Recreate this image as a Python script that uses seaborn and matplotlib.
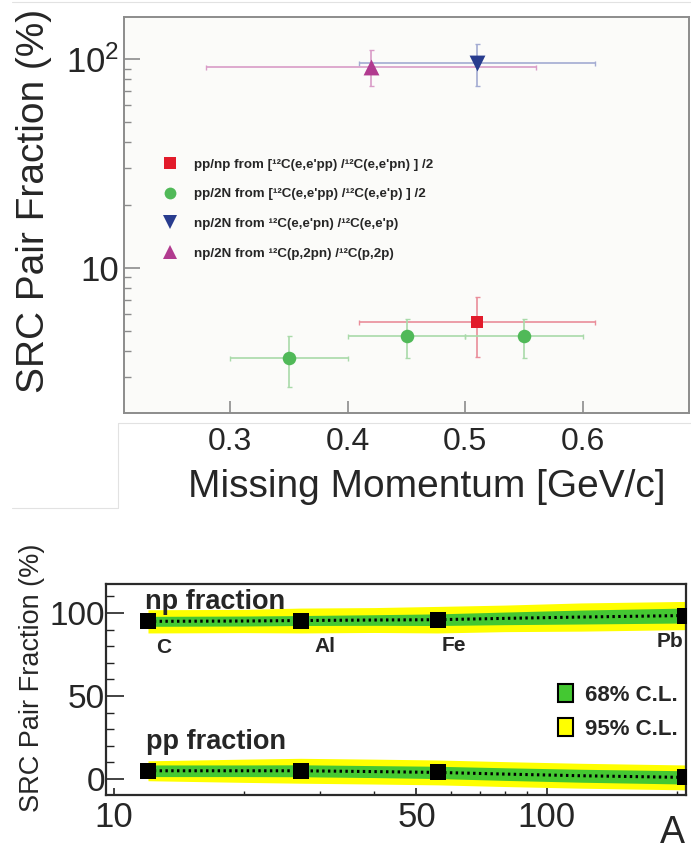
import matplotlib
matplotlib.use("Agg")
import numpy as np
import pandas as pd
import matplotlib.pyplot as plt
import seaborn as sns
from matplotlib.lines import Line2D
from matplotlib.patches import Patch
from matplotlib.ticker import FixedLocator, NullFormatter
from matplotlib import font_manager

# ---------------- upper panel: 12C pair fractions vs missing momentum ----------------
ppnp_x = [0.51]
ppnp_xerr = [0.10]
ppnp_y = [5.5]
ppnp_yerr = [1.75]

pp2n_x = [0.35, 0.45, 0.55]
pp2n_xerr = [0.05, 0.05, 0.05]
pp2n_y = [3.7, 4.7, 4.7]
pp2n_yerr = [1.0, 1.0, 1.0]

np2n_e_x = [0.51]
np2n_e_xerr = [0.10]
np2n_e_y = [96.0]
np2n_e_yerr = [22.0]

np2n_p_x = [0.42]
np2n_p_xerr = [0.14]
np2n_p_y = [92.0]
np2n_p_yerr = [18.0]

top_labels = [
    "pp/np from [\u00b9\u00b2C(e,e'pp) /\u00b9\u00b2C(e,e'pn) ] /2",
    "pp/2N from [\u00b9\u00b2C(e,e'pp) /\u00b9\u00b2C(e,e'p) ] /2",
    "np/2N from \u00b9\u00b2C(e,e'pn) /\u00b9\u00b2C(e,e'p)",
    "np/2N from \u00b9\u00b2C(p,2pn) /\u00b9\u00b2C(p,2p)",
]
top_xticks = [0.3, 0.4, 0.5, 0.6]

# ---------------- lower panel: fractions vs mass number ----------------
nuclei = ["C", "Al", "Fe", "Pb"]
mass_A = [12, 27, 56, 208]
np_frac = [95.0, 95.5, 96.0, 98.5]
pp_frac = [5.0, 5.0, 4.0, 1.0]

band_A = [12, 20, 27, 40, 56, 80, 120, 208]
np_mid = [95.0, 95.2, 95.5, 95.8, 96.0, 96.8, 97.6, 98.5]
np_w68 = [3.0, 3.0, 3.0, 3.2, 3.5, 3.8, 4.2, 4.5]
np_w95 = [7.0, 7.0, 7.5, 7.5, 8.0, 8.0, 8.5, 8.5]
pp_mid = [5.0, 5.0, 5.0, 4.5, 4.0, 3.0, 2.0, 1.0]
pp_w68 = [3.5, 3.5, 3.6, 3.6, 3.7, 3.8, 3.9, 4.0]
pp_w95 = [6.0, 7.0, 7.5, 7.5, 7.5, 7.5, 7.5, 7.5]

sns.set_theme(style="ticks")
installed = {f.name for f in font_manager.fontManager.ttflist}
narrow = "Liberation Sans Narrow" if "Liberation Sans Narrow" in installed else "Liberation Sans"
plt.rcParams["font.family"] = ["Liberation Sans", "DejaVu Sans"]
plt.rcParams["mathtext.fontset"] = "custom"
plt.rcParams["mathtext.rm"] = "Liberation Sans"

W, H = 691, 849
fig = plt.figure(figsize=(W / 100, H / 100), dpi=100)
fig.patch.set_facecolor("white")


def px(v):
    return v * 72 / 100  # pixels -> points


# faint outline of the composed panels
for (x0, y0, x1, y1) in [(12, 2, 691, 2), (118, 423, 691, 423), (118, 423, 118, 508), (12, 508, 118, 508)]:
    fig.add_artist(Line2D([x0 / W, x1 / W], [1 - y0 / H, 1 - y1 / H], transform=fig.transFigure,
                          color="#e2e2e2", lw=0.8))

# ======================= upper panel =======================
ax1 = fig.add_axes([124 / W, 1 - 413 / H, 565 / W, 396 / H])
ax1.set_facecolor("#fbfbf9")
ax1.set_yscale("log")
ax1.set_xlim(0.21, 0.69)
ax1.set_ylim(2.02, 159)

series = [
    (ppnp_x, ppnp_y, ppnp_xerr, ppnp_yerr, "#e21b2b", "#ea8d9a", "s", 80),
    (pp2n_x, pp2n_y, pp2n_xerr, pp2n_yerr, "#50b958", "#a9daa9", "o", 95),
    (np2n_e_x, np2n_e_y, np2n_e_xerr, np2n_e_yerr, "#283c8e", "#a3abd2", "v", 130),
    (np2n_p_x, np2n_p_y, np2n_p_xerr, np2n_p_yerr, "#b13b8f", "#d99bc7", "^", 130),
]
handles = []
for (x, y, xe, ye, col, ecol, mk, s), lab in zip(series, top_labels):
    ax1.errorbar(x, y, xerr=xe, yerr=ye, fmt="none", ecolor=ecol, elinewidth=1.2,
                 capsize=1.8, capthick=1.0, zorder=2)
    sns.scatterplot(x=x, y=y, marker=mk, color=col, s=s, linewidth=0, ax=ax1, zorder=3)
    handles.append(Line2D([], [], marker=mk, color=col, ls="none",
                          markersize=8.5 if mk in "so" else 10, markeredgewidth=0, label=lab))

ax1.legend(handles=handles, loc="upper left", bbox_to_anchor=(157 / W, 1 - 153 / H),
           bbox_transform=fig.transFigure, frameon=False, handlelength=1.2, handletextpad=1.15,
           labelspacing=1.3, borderaxespad=0, prop={"family": narrow, "weight": "bold", "size": 9.6})

ax1.set_xticks(top_xticks)
ax1.set_xticklabels([f"{v:.1f}" for v in top_xticks])
ax1.yaxis.set_major_locator(FixedLocator([10, 100]))
ax1.set_yticklabels(["10", r"$\mathregular{10^{2}}$"])
ax1.yaxis.set_minor_locator(FixedLocator([3, 4, 5, 6, 7, 8, 9, 20, 30, 40, 50, 60, 70, 80, 90]))
ax1.yaxis.set_minor_formatter(NullFormatter())
ax1.xaxis.set_minor_locator(FixedLocator([]))
ax1.tick_params(axis="both", which="both", direction="in", color="#8c8c8c", top=False, right=False)
ax1.tick_params(axis="x", which="major", length=px(12), width=1.2, labelsize=23, pad=px(14))
ax1.tick_params(axis="y", which="major", length=px(16), width=1.2, labelsize=25, pad=px(5))
ax1.tick_params(axis="y", which="minor", length=px(7), width=1.0)
for sp in ax1.spines.values():
    sp.set_color("#8c8c8c")
    sp.set_linewidth(1.4)

ax1.set_xlabel("Missing Momentum [GeV/c]", fontsize=28)
ax1.xaxis.set_label_coords(0.535, -0.187)
ax1.xaxis.label.set_va("center")
ax1.set_ylabel("SRC Pair Fraction (%)", fontsize=28)
ax1.yaxis.set_label_coords(-0.159, 0.535)
ax1.yaxis.label.set_va("center")

# ======================= lower panel =======================
ax2 = fig.add_axes([106 / W, 1 - 795 / H, 580 / W, 211 / H])
ax2.set_xscale("log")
ax2.set_xlim(9.6, 209.5)
ax2.set_ylim(-9.6, 117.5)

yellow, green = "#ffff00", "#44c832"
bands = pd.DataFrame({"A": band_A, "np": np_mid, "np68": np_w68, "np95": np_w95,
                      "pp": pp_mid, "pp68": pp_w68, "pp95": pp_w95})
for key in ["np", "pp"]:
    mid = bands[key]
    ax2.fill_between(bands["A"], mid - bands[key + "95"], mid + bands[key + "95"], color=yellow, lw=0, zorder=1)
    ax2.fill_between(bands["A"], mid - bands[key + "68"], mid + bands[key + "68"], color=green, lw=0, zorder=2)
    sns.lineplot(data=bands, x="A", y=key, color="black", lw=2.2, linestyle=(0, (0.8, 1.1)), ax=ax2, zorder=3)

pts = pd.DataFrame({"A": mass_A * 2, "frac": np_frac + pp_frac})
sns.scatterplot(data=pts, x="A", y="frac", marker="s", color="black", s=140, linewidth=0, ax=ax2, zorder=4)

label_dx = [16, 24, 16, -1]
for name, a, v, dx in zip(nuclei, mass_A, np_frac, label_dx):
    ax2.annotate(name, xy=(a, v), xytext=(px(dx), px(-26)), textcoords="offset points",
                 ha="right" if dx < 0 else "center", va="center", fontsize=15, fontweight="bold",
                 family=narrow, annotation_clip=False)

ax2.text(11.8, 106.5, "np fraction", fontsize=19.5, fontweight="bold", family=narrow, ha="left", va="center")
ax2.text(11.9, 22.5, "pp fraction", fontsize=19.5, fontweight="bold", family=narrow, ha="left", va="center")

ax2.legend(handles=[Patch(facecolor=green, edgecolor="black", lw=1.5, label="68% C.L."),
                    Patch(facecolor=yellow, edgecolor="black", lw=1.5, label="95% C.L.")],
           loc="upper left", bbox_to_anchor=(549 / W, 1 - 675 / H), bbox_transform=fig.transFigure,
           frameon=False, handlelength=0.7, handleheight=0.9, handletextpad=0.5, labelspacing=0.55,
           borderaxespad=0, prop={"family": narrow, "weight": "bold", "size": 16})

ax2.xaxis.set_major_locator(FixedLocator([10, 50, 100]))
ax2.set_xticklabels(["10", "50", "100"])
ax2.xaxis.set_minor_locator(FixedLocator([20, 30, 40, 60, 70, 80, 90, 200]))
ax2.xaxis.set_minor_formatter(NullFormatter())
ax2.yaxis.set_major_locator(FixedLocator([0, 50, 100]))
ax2.set_yticklabels(["0", "50", "100"])
ax2.yaxis.set_minor_locator(FixedLocator([10, 20, 30, 40, 60, 70, 80, 90, 110]))
ax2.tick_params(axis="both", which="both", direction="in", color="#222222", top=False, right=False)
ax2.tick_params(axis="x", which="major", length=px(7), width=1.2, labelsize=25, pad=px(6))
ax2.tick_params(axis="x", which="minor", length=px(4), width=1.0)
ax2.tick_params(axis="y", which="major", length=px(18), width=1.2, labelsize=24, pad=px(1))
ax2.tick_params(axis="y", which="minor", length=px(8), width=1.0)
for sp in ax2.spines.values():
    sp.set_color("#2a2a2a")
    sp.set_linewidth(1.6)

ax2.set_xlabel("A", fontsize=27)
ax2.xaxis.set_label_coords(0.976, -0.178)
ax2.xaxis.label.set_va("center")
ax2.set_ylabel("SRC Pair Fraction (%)", fontsize=19.5)
ax2.yaxis.set_label_coords(-0.128, 0.555)
ax2.yaxis.label.set_va("center")

fig.savefig("out.png", dpi=100)
